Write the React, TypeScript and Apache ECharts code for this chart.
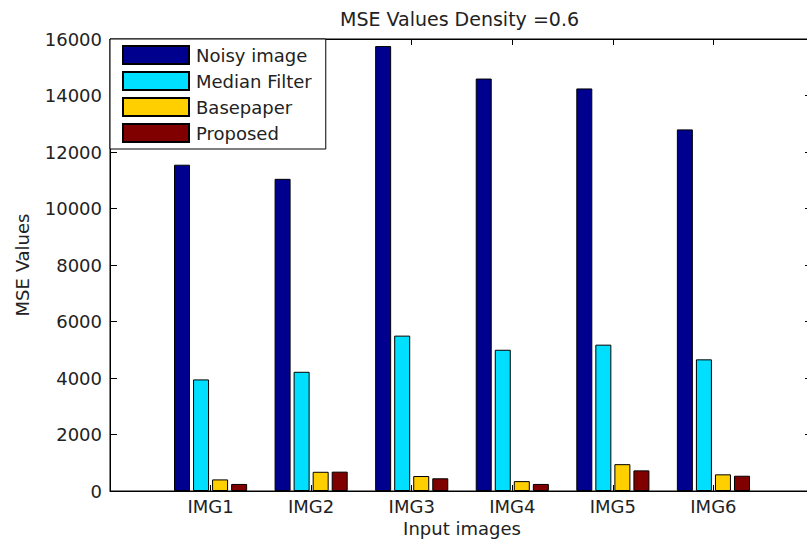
import React, { useEffect, useRef } from "react";
import * as echarts from "echarts";

const categories = ["IMG1", "IMG2", "IMG3", "IMG4", "IMG5", "IMG6"];
const seriesNames = ["Noisy image", "Median Filter", "Basepaper", "Proposed"];
const noisyImage = [11550, 11050, 15750, 14600, 14250, 12800];
const medianFilter = [3950, 4220, 5500, 5000, 5180, 4660];
const basepaper = [410, 680, 530, 350, 950, 590];
const proposed = [250, 685, 450, 250, 730, 540];
const yTicks = [0, 2000, 4000, 6000, 8000, 10000, 12000, 14000, 16000];
const titleText = "MSE Values Density =0.6";
const xName = "Input images";
const yName = "MSE Values";

export default function App() {
  const ref = useRef<HTMLDivElement>(null);
  useEffect(() => {
    if (!ref.current) return;
    const chart = echarts.init(ref.current, null, { renderer: "svg" });
    const font = "DejaVu Sans";
    const textColor = "#222";
    const colors = ["#00008F", "#00DFFF", "#FFCF00", "#800000"];
    const values = [noisyImage, medianFilter, basepaper, proposed];
    const xMin = 0;
    const xMax = categories.length + 1;
    const yMin = yTicks[0];
    const yMax = yTicks[yTicks.length - 1];
    const yInterval = yTicks[1] - yTicks[0];
    const axisLine = { show: true, onZero: false, lineStyle: { color: "#000", width: 1 } };

    chart.setOption({
      animation: false,
      backgroundColor: "#fff",
      textStyle: { fontFamily: font },
      title: {
        text: titleText,
        left: 340,
        top: 9,
        padding: 0,
        textStyle: { fontSize: 19, fontWeight: "normal", color: textColor, fontFamily: font },
      },
      legend: {
        orient: "vertical",
        left: 110,
        top: 39,
        data: seriesNames,
        icon: "rect",
        itemWidth: 66,
        itemHeight: 18,
        itemGap: 6,
        padding: [6, 14, 6, 12],
        backgroundColor: "#fff",
        borderColor: "#000",
        borderWidth: 1,
        borderRadius: 0,
        z: 10,
        textStyle: { fontSize: 18, color: textColor, fontFamily: font, padding: [0, 0, 0, 2] },
      },
      grid: {
        left: 110,
        right: -7,
        top: 39,
        bottom: 51,
        outerBoundsMode: "none",
        containLabel: false,
        show: true,
        borderColor: "#000",
        borderWidth: 1,
        backgroundColor: "#fff",
      },
      xAxis: [
        {
          type: "value",
          min: xMin,
          max: xMax,
          interval: 1,
          position: "bottom",
          name: xName,
          nameLocation: "middle",
          nameGap: 22,
          nameTextStyle: { fontSize: 18, color: textColor, fontFamily: font },
          axisLine,
          axisTick: { show: true, inside: true, length: 6, lineStyle: { color: "#000" } },
          axisLabel: {
            formatter: (v: number) => categories[v - 1] ?? "",
            fontSize: 18,
            color: textColor,
            fontFamily: font,
            margin: 6,
          },
          splitLine: { show: false },
        },
        {
          type: "value",
          min: xMin,
          max: xMax,
          interval: 1,
          position: "top",
          axisLine,
          axisTick: { show: true, inside: true, length: 6, lineStyle: { color: "#000" } },
          axisLabel: { show: false },
          splitLine: { show: false },
        },
      ],
      yAxis: [
        {
          type: "value",
          min: yMin,
          max: yMax,
          interval: yInterval,
          position: "left",
          name: yName,
          nameLocation: "middle",
          nameGap: 79,
          nameTextStyle: { fontSize: 18, color: textColor, fontFamily: font },
          axisLine,
          axisTick: { show: true, inside: true, length: 7, lineStyle: { color: "#000" } },
          axisLabel: {
            formatter: (v: number) => String(v),
            fontSize: 18,
            color: textColor,
            fontFamily: font,
            margin: 8,
          },
          splitLine: { show: false },
        },
        {
          type: "value",
          min: yMin,
          max: yMax,
          interval: yInterval,
          position: "right",
          axisLine,
          axisTick: { show: true, inside: true, length: 9, lineStyle: { color: "#000" } },
          axisLabel: { show: false },
          splitLine: { show: false },
        },
      ],
      series: values.map((vals, k) => ({
        type: "bar",
        name: seriesNames[k],
        xAxisIndex: 0,
        yAxisIndex: 0,
        data: vals.map((v, i) => [i + 1, v]),
        barWidth: 16,
        barGap: "19%",
        itemStyle: { color: colors[k], borderColor: "#000", borderWidth: 1 },
      })),
    });
    return () => chart.dispose();
  }, []);
  return (
    <div
      ref={ref}
      style={{ position: "fixed", left: 0, top: 0, width: 807, height: 542 }}
    />
  );
}
